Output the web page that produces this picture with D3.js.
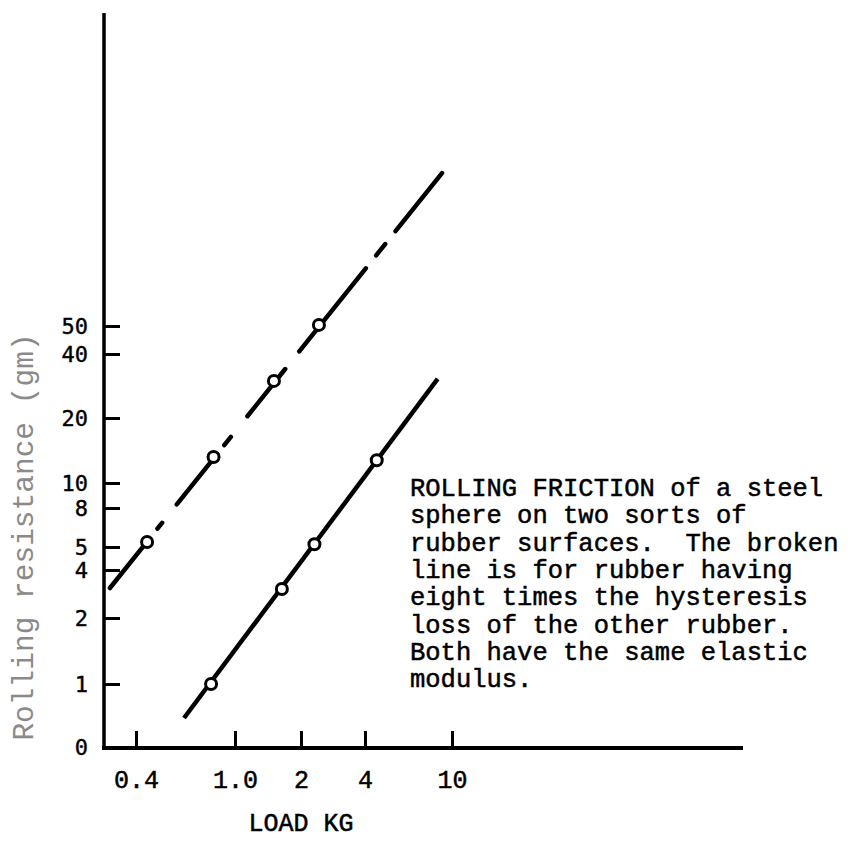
<!DOCTYPE html>
<html>
<head>
<meta charset="utf-8">
<script src="https://cdn.jsdelivr.net/npm/d3@7"></script>
<style>
body { margin: 0; background: #fff; }
svg { display: block; }
</style>
</head>
<body>
<svg width="861" height="841"></svg>
<script>
const d3 = window.d3;

// axis ticks as printed (the original axes are not evenly spaced)
const xTicks = [0.4, 1, 2, 4, 10];
const xTickLabels = ["0.4", "1.0", "2", "4", "10"];
const yTicks = [0, 1, 2, 4, 5, 8, 10, 20, 40, 50];

// broken line: rubber with eight times the hysteresis loss
const brokenLine = [
	{ load: 0.242, resist: 3.25 },
	{ load: 9.31, resist: 104.6 },
];
const brokenPoints = [
	{ load: 0.467, resist: 5.38 },
	{ load: 0.87, resist: 14.0 },
	{ load: 1.59, resist: 31.6 },
	{ load: 2.56, resist: 50.4 },
];

// solid line: the other rubber
const solidLine = [
	{ load: 0.691, resist: 0.46 },
	{ load: 9.01, resist: 32.2 },
];
const solidPoints = [
	{ load: 0.855, resist: 1.0 },
	{ load: 1.71, resist: 3.21 },
	{ load: 2.42, resist: 5.21 },
	{ load: 4.81, resist: 13.5 },
];

const caption = [
	"ROLLING FRICTION of a steel",
	"sphere on two sorts of",
	"rubber surfaces.  The broken",
	"line is for rubber having",
	"eight times the hysteresis",
	"loss of the other rubber.",
	"Both have the same elastic",
	"modulus.",
];

const mono = "'Liberation Mono', 'Courier New', monospace";
const originX = 104;
const originY = 748;
const axisTop = 13;
const axisRight = 743;

const svg = d3.select("svg");

const x = d3.scaleLinear()
	.domain(xTicks)
	.range([136, 235, 301, 365, 452]);
const y = d3.scaleLinear()
	.domain(yTicks)
	.range([747, 684, 618, 570, 547, 508, 483, 418, 354, 326]);

// axis lines
svg.append("line")
	.attr("x1", originX).attr("x2", originX)
	.attr("y1", axisTop).attr("y2", originY + 2)
	.attr("stroke", "#000")
	.attr("stroke-width", 3.5);
svg.append("line")
	.attr("x1", originX - 2).attr("x2", axisRight)
	.attr("y1", originY).attr("y2", originY)
	.attr("stroke", "#000")
	.attr("stroke-width", 4);

// y axis
const yAxis = svg.append("g")
	.attr("transform", `translate(${originX},0)`)
	.call(
		d3.axisLeft(y)
			.tickValues(yTicks)
			.tickSizeInner(-16)
			.tickSizeOuter(0)
			.tickPadding(16)
			.tickFormat(d => d)
	);
yAxis.select(".domain").remove();
yAxis.selectAll(".tick line").attr("stroke", "#000").attr("stroke-width", 3);
yAxis.selectAll(".tick text")
	.attr("fill", "#000")
	.attr("stroke", "#000")
	.attr("stroke-width", 0.4)
	.attr("font-family", "'DejaVu Sans Mono', monospace")
	.attr("font-size", 22);

// x axis
const xAxis = svg.append("g")
	.attr("transform", `translate(0,${originY})`)
	.call(
		d3.axisBottom(x)
			.tickValues(xTicks)
			.tickSizeInner(-17)
			.tickSizeOuter(0)
			.tickPadding(22)
			.tickFormat((d, i) => xTickLabels[i])
	);
xAxis.select(".domain").remove();
xAxis.selectAll(".tick line").attr("stroke", "#000").attr("stroke-width", 3);
xAxis.selectAll(".tick text")
	.attr("fill", "#000")
	.attr("stroke", "#000")
	.attr("stroke-width", 0.5)
	.attr("font-family", mono)
	.attr("font-size", 25);

// axis titles
svg.append("text")
	.attr("transform", "translate(33,537) rotate(-90)")
	.attr("text-anchor", "middle")
	.attr("font-family", mono)
	.attr("font-size", 29.5)
	.attr("fill", "#8a8a8a")
	.text("Rolling resistance (gm)");
svg.append("text")
	.attr("x", 301)
	.attr("y", 831)
	.attr("text-anchor", "middle")
	.attr("font-family", mono)
	.attr("font-size", 25)
	.attr("stroke", "#000")
	.attr("stroke-width", 0.5)
	.text("LOAD KG");

// lines
const line = d3.line()
	.x(d => x(d.load))
	.y(d => y(d.resist));

svg.append("path")
	.datum(brokenLine)
	.attr("d", line)
	.attr("fill", "none")
	.attr("stroke", "#000")
	.attr("stroke-width", 4.5)
	.attr("stroke-linecap", "round")
	.attr("stroke-dasharray", "63 13 7.5 23.5 64.5 11.5 10.5 26.5 60.5 22.5 106.5 16.5 14.5 16.5 80 10");

svg.append("path")
	.datum(solidLine)
	.attr("d", line)
	.attr("fill", "none")
	.attr("stroke", "#000")
	.attr("stroke-width", 4.5);

// points
svg.append("g")
	.selectAll("circle")
	.data(brokenPoints.concat(solidPoints))
	.join("circle")
	.attr("cx", d => x(d.load))
	.attr("cy", d => y(d.resist))
	.attr("r", 5.5)
	.attr("fill", "#fff")
	.attr("stroke", "#000")
	.attr("stroke-width", 3);

// caption
svg.append("text")
	.attr("font-family", mono)
	.attr("font-size", 25.5)
	.attr("fill", "#000")
	.attr("stroke", "#000")
	.attr("stroke-width", 0.5)
	.selectAll("tspan")
	.data(caption)
	.join("tspan")
	.attr("x", 410)
	.attr("y", (d, i) => 496 + i * 27.3)
	.style("white-space", "pre")
	.text(d => d);
</script>
</body>
</html>
